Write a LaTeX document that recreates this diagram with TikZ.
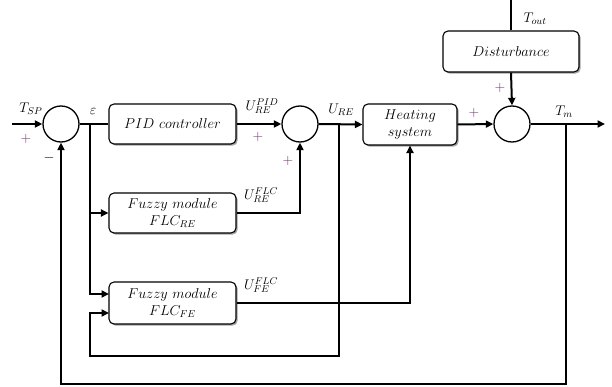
\RequirePackage{fix-cm}
\documentclass[tikz,border=0pt]{standalone}
\usetikzlibrary{arrows.meta,shadows}
\definecolor{plus}{RGB}{112,48,112}
\begin{document}
\begin{tikzpicture}[x=1pt,y=-1pt,
  blk/.style={draw, line width=1.1pt, rounded corners=5pt, fill=white,
    drop shadow={shadow xshift=1.6pt,shadow yshift=-1.6pt,fill=black!45,opacity=0.8},
    font=\fontsize{14.3}{16.5}\selectfont, align=center, inner sep=0pt},
  sum/.style={draw, line width=1.3pt, circle, minimum size=36pt, inner sep=0pt},
  wire/.style={line width=2pt},
  arr/.style={wire, -{Triangle[length=7.5pt,width=7pt]}},
  lbl/.style={font=\fontsize{14}{16}\selectfont, inner sep=0pt},
  pl/.style={text=plus, font=\fontsize{14}{14}\selectfont, inner sep=0pt},
  mi/.style={font=\fontsize{14}{14}\selectfont, inner sep=0pt}]
\useasboundingbox (0,0) rectangle (612,387);

% blocks
\node[blk, minimum width=127pt, minimum height=40pt] (pid) at (172.5,124) {$PID\ controller$};
\node[blk, minimum width=127pt, minimum height=40pt] (flcre) at (172.5,213) {$Fuzzy\ module$\\$FLC_{RE}$};
\node[blk, minimum width=127pt, minimum height=42pt] (flcfe) at (172.5,303) {$Fuzzy\ module$\\$FLC_{FE}$};
\node[blk, minimum width=94pt, minimum height=41pt] (heat) at (410,124.5) {$Heating$\\$system$};
\node[blk, minimum width=136pt, minimum height=41pt] (dist) at (511,51.5) {$Disturbance$};

% summing junctions
\node[sum] (s1) at (61,124) {};
\node[sum] (s2) at (300,124) {};
\node[sum] (s3) at (512,124) {};

% free ends and branch points
\coordinate (in) at (12,124);
\coordinate (out) at (605,124);
\coordinate (tout) at (511,0);
\coordinate (e) at (90,124);
\coordinate (u) at (339,124);
\coordinate (tm) at (566,124);
\coordinate (fein1) at (109,294);
\coordinate (fein2) at (109,313);
\coordinate (lb) at (90,356);
\coordinate (bb) at (566,384);

% connectors
\draw[arr] (in) -- (s1.west);
\draw[wire] (s1.east) -- (pid.west);
\draw[arr] (pid.east) -- (s2.west);
\draw[arr] (s2.east) -- (heat.west);
\draw[arr] (heat.east) -- (s3.west);
\draw[arr] (s3.east) -- (out);
\draw[wire] (tout) -- (dist.north);
\draw[arr] (dist.south) -- (s3.north);
\draw[arr] (e) |- (flcre.west);
\draw[arr] (e) |- (fein1);
\draw[arr] (flcre.east) -| (s2.south);
\draw[arr] (flcfe.east) -| (heat.south);
\draw[arr] (u) |- (lb) |- (fein2);
\draw[arr] (tm) -- (bb) -| (s1.south);

% labels
\node[lbl] (lsp) at (31,109) {$T_{SP}$};
\node[pl] (p1) at (26,139) {$+$};
\node[mi] (m1) at (49,158) {$-$};
\node[lbl] (leps) at (93,111) {$\varepsilon$};
\node[lbl] (lpid) at (262,106) {$U_{RE}^{PID}$};
\node[pl] (p2) at (258,137) {$+$};
\node[pl] (p3) at (288,161) {$+$};
\node[lbl] (lure) at (341,110) {$U_{RE}$};
\node[pl] (p4) at (474,113) {$+$};
\node[pl] (p5) at (500,88) {$+$};
\node[lbl] (lout) at (535,19) {$T_{out}$};
\node[lbl] (ltm) at (564,112) {$T_m$};
\node[lbl] (lflcre) at (261,195) {$U_{RE}^{FLC}$};
\node[lbl] (lflcfe) at (261,285) {$U_{FE}^{FLC}$};
\end{tikzpicture}
\end{document}
